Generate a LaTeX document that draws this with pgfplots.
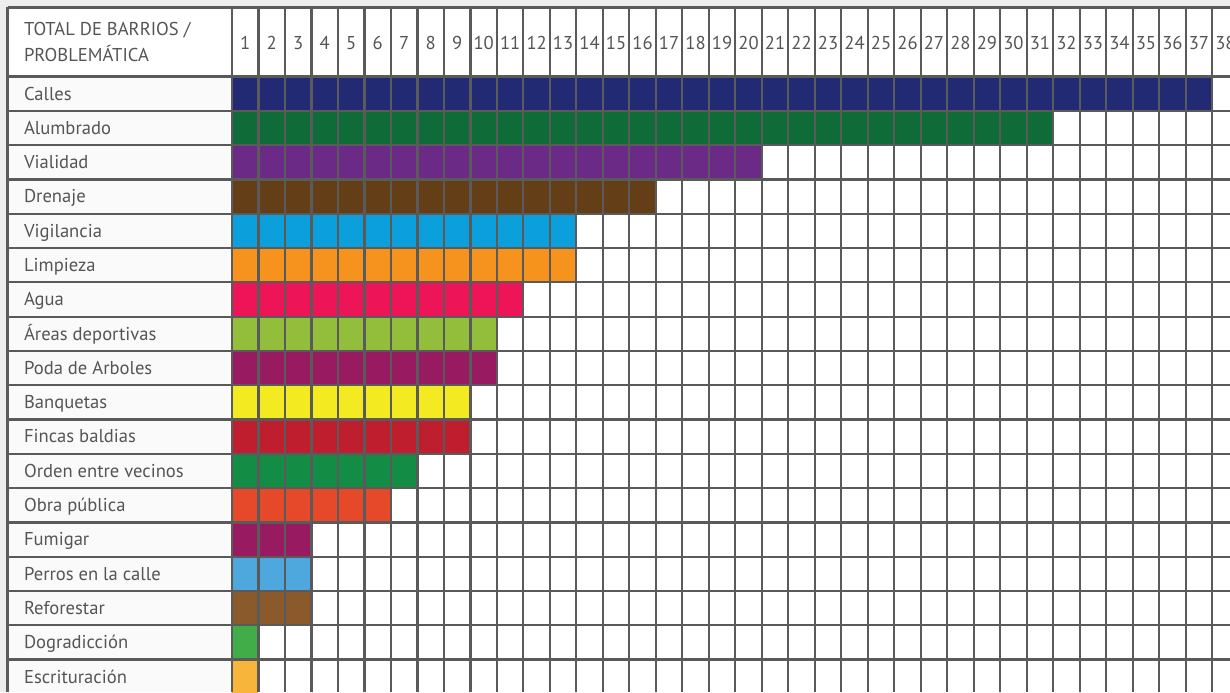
\documentclass[border=0pt]{standalone}
\usepackage{fontspec}
\setmainfont{PT Sans}
\usepackage{pgfplots}
\pgfplotsset{compat=1.18}
\definecolor{gridc}{HTML}{5A5A5A}
\definecolor{txt}{HTML}{555555}
\definecolor{bgc}{HTML}{EDEDED}
\definecolor{lab}{HTML}{FAFAFA}
\definecolor{c1}{HTML}{232A74}
\definecolor{c2}{HTML}{0F6B38}
\definecolor{c3}{HTML}{6A2A86}
\definecolor{c4}{HTML}{633E17}
\definecolor{c5}{HTML}{0BA0DC}
\definecolor{c6}{HTML}{F6921E}
\definecolor{c7}{HTML}{ED1558}
\definecolor{c8}{HTML}{93BE3C}
\definecolor{c9}{HTML}{981B62}
\definecolor{c10}{HTML}{F3EA22}
\definecolor{c11}{HTML}{BE1E2D}
\definecolor{c12}{HTML}{138D45}
\definecolor{c13}{HTML}{E6482A}
\definecolor{c14}{HTML}{981B62}
\definecolor{c15}{HTML}{4FA8DD}
\definecolor{c16}{HTML}{8A5A2C}
\definecolor{c17}{HTML}{40AD48}
\definecolor{c18}{HTML}{F8B53C}
\tikzset{lbl/.style={text=txt, inner sep=0pt, outer sep=0pt, font=\fontsize{9.3}{13.3}\selectfont}}
\begin{document}
\begin{tikzpicture}
\fill[bgc] (-3.75pt,0) rectangle (611.25pt,346pt);
\begin{axis}[
  scale only axis, width=611.25pt, height=342.25pt,
  at={(0,0)}, anchor=south west,
  xmin=-8.475, xmax=37.675, ymin=0.555, ymax=20.512,
  axis background/.style={fill=white},
  xbar, bar width=1, bar shift=0,
  axis on top,
  xtick={0,...,37}, ytick={0.5,1.5,...,18.5},
  xticklabels={}, yticklabels={},
  major tick length=0pt,
  grid=major, major grid style={gridc, line width=1.1pt},
  axis x line*=top, axis y line*=left,
  axis line style={-, gridc, line width=1.1pt},
  clip=false,
  every axis plot/.append style={draw=none},
]
\fill[lab] (axis cs:-8.475,0.555) rectangle (axis cs:0,18.5);
\addplot[fill=c1] coordinates {(37,18)};
\addplot[fill=c2] coordinates {(31,17)};
\addplot[fill=c3] coordinates {(20,16)};
\addplot[fill=c4] coordinates {(16,15)};
\addplot[fill=c5] coordinates {(13,14)};
\addplot[fill=c6] coordinates {(13,13)};
\addplot[fill=c7] coordinates {(11,12)};
\addplot[fill=c8] coordinates {(10,11)};
\addplot[fill=c9] coordinates {(10,10)};
\addplot[fill=c10] coordinates {(9,9)};
\addplot[fill=c11] coordinates {(9,8)};
\addplot[fill=c12] coordinates {(7,7)};
\addplot[fill=c13] coordinates {(6,6)};
\addplot[fill=c14] coordinates {(3,5)};
\addplot[fill=c15] coordinates {(3,4)};
\addplot[fill=c16] coordinates {(3,3)};
\addplot[fill=c17] coordinates {(1,2)};
\addplot[fill=c18] coordinates {(1,1)};
\node[lbl, anchor=base west, align=left] at (axis cs:-7.85,18.93) {TOTAL DE BARRIOS /\\PROBLEMÁTICA};
\pgfplotsinvokeforeach{1,...,38}{\node[lbl, anchor=base] at (axis cs:#1-0.5,19.273) {#1};}
\node[lbl, anchor=base west] at (axis cs:-7.85,17.815) {Calles};
\node[lbl, anchor=base west] at (axis cs:-7.85,16.815) {Alumbrado};
\node[lbl, anchor=base west] at (axis cs:-7.85,15.815) {Vialidad};
\node[lbl, anchor=base west] at (axis cs:-7.85,14.815) {Drenaje};
\node[lbl, anchor=base west] at (axis cs:-7.85,13.815) {Vigilancia};
\node[lbl, anchor=base west] at (axis cs:-7.85,12.815) {Limpieza};
\node[lbl, anchor=base west] at (axis cs:-7.85,11.815) {Agua};
\node[lbl, anchor=base west] at (axis cs:-7.85,10.815) {Áreas deportivas};
\node[lbl, anchor=base west] at (axis cs:-7.85,9.815) {Poda de Arboles};
\node[lbl, anchor=base west] at (axis cs:-7.85,8.815) {Banquetas};
\node[lbl, anchor=base west] at (axis cs:-7.85,7.815) {Fincas baldias};
\node[lbl, anchor=base west] at (axis cs:-7.85,6.815) {Orden entre vecinos};
\node[lbl, anchor=base west] at (axis cs:-7.85,5.815) {Obra pública};
\node[lbl, anchor=base west] at (axis cs:-7.85,4.815) {Fumigar};
\node[lbl, anchor=base west] at (axis cs:-7.85,3.815) {Perros en la calle};
\node[lbl, anchor=base west] at (axis cs:-7.85,2.815) {Reforestar};
\node[lbl, anchor=base west] at (axis cs:-7.85,1.815) {Dogradicción};
\node[lbl, anchor=base west] at (axis cs:-7.85,0.815) {Escrituración};
\end{axis}
\pgfresetboundingbox
\path[use as bounding box] (-3.75pt,0) rectangle (611.25pt,346pt);
\end{tikzpicture}
\end{document}
